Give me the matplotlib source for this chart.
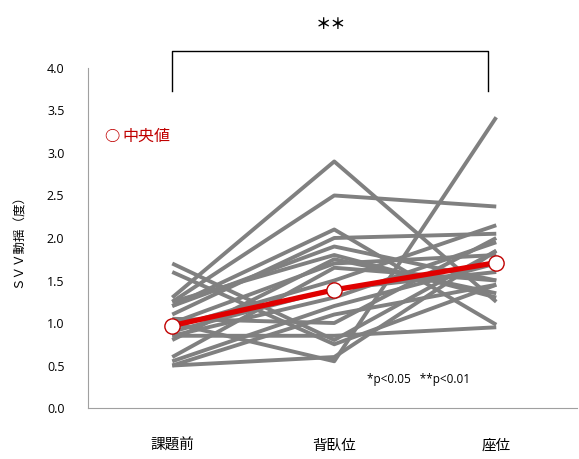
import matplotlib
matplotlib.use("Agg")
import matplotlib.pyplot as plt

plt.rcParams['font.family'] = ['Noto Sans CJK JP', 'DejaVu Sans']

# conditions and per-subject SVV sway (deg)
conditions = ['課題前', '背臥位', '座位']
pre = [1.7, 1.6, 1.3, 1.25, 1.25, 1.2, 1.2, 1.1, 1.0, 1.0,
       0.95, 0.9, 0.85, 0.85, 0.8, 0.6, 0.55, 0.5, 0.5, 1.05]
supine = [0.8, 0.75, 2.9, 2.5, 1.8, 2.1, 1.9, 2.0, 0.55, 1.7,
          1.5, 1.4, 0.85, 1.3, 1.75, 1.65, 1.2, 0.6, 1.1, 1.0]
sitting = [1.85, 1.45, 1.25, 2.37, 1.3, 0.98, 1.5, 2.05, 3.42, 1.8,
           2.15, 1.6, 0.95, 1.95, 1.35, 1.5, 1.7, 1.85, 1.45, 2.0]
median = [0.97, 1.39, 1.71]
yticks = [0.0, 0.5, 1.0, 1.5, 2.0, 2.5, 3.0, 3.5, 4.0]

fig = plt.figure(figsize=(5.79, 4.59), dpi=100)
ax = fig.add_axes([0.152, 0.111, 0.845, 0.741])

x = range(len(conditions))
for a, b, c in zip(pre, supine, sitting):
    ax.plot(x, [a, b, c], color='#808080', lw=2.8, solid_capstyle='butt', zorder=2)

ax.plot(x, median, color='#e00000', lw=3.8, zorder=3)
ax.plot(x, median, 'o', ms=11, mfc='white', mec='#c00000', mew=1.0, zorder=4)

ax.set_xlim(-0.52, 2.5)
ax.set_ylim(0, 4)
ax.set_xticks(list(x))
ax.set_xticklabels(conditions, fontsize=10.5)
ax.set_yticks(yticks)
ax.set_yticklabels([f'{v:.1f}' for v in yticks], fontsize=9, family=['Open Sans', 'DejaVu Sans'])
ax.tick_params(length=0)
ax.tick_params(axis='y', pad=17)
ax.tick_params(axis='x', pad=22)
for s in ['top', 'right']:
    ax.spines[s].set_visible(False)
for s in ['left', 'bottom']:
    ax.spines[s].set_color('#a0a0a0')
ax.set_ylabel('ＳＶＶ動揺（度）', fontsize=9, labelpad=16)

# significance bracket between pre-task and sitting
ax.plot([0, 0, 1.95, 1.95], [3.73, 4.2, 4.2, 3.73], color='black', lw=1.0, clip_on=False)
ax.text(0.98, 4.52, '＊＊', ha='center', va='center', fontsize=11, fontweight='bold')

ax.text(-0.42, 3.2, '○', color='#c00000', fontsize=11, fontweight='bold', va='center')
ax.text(-0.31, 3.2, '中央値', color='#c00000', fontsize=11.5, va='center')
ax.text(1.2, 0.33, '*p<0.05   **p<0.01', fontsize=8.5, va='center', family=['Open Sans', 'DejaVu Sans'])

fig.savefig('out.png', dpi=100)
